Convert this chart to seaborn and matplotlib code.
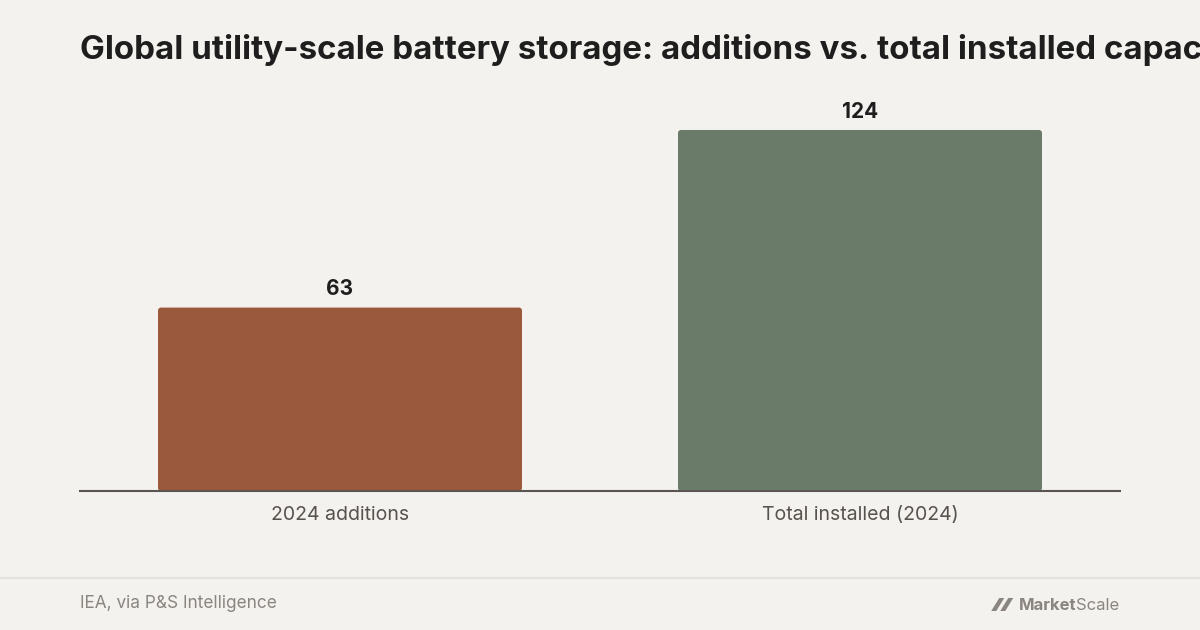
import matplotlib
matplotlib.use("Agg")
import matplotlib.pyplot as plt
import seaborn as sns
import pandas as pd
from matplotlib.patches import Polygon, FancyBboxPatch

categories = ["2024 additions", "Total installed (2024)"]
values = [63, 124]
bar_colors = ["#9A583C", "#6A7C69"]
value_labels = ["63", "124"]

title = "Global utility-scale battery storage: additions vs. total installed capacity"
source = "IEA, via P&S Intelligence"

BG = "#F4F2EE"
sns.set_theme(style="white")
plt.rcParams["font.family"] = ["Inter", "DejaVu Sans"]

df = pd.DataFrame({"category": categories, "value": values})

fig = plt.figure(figsize=(12, 6.3), dpi=100, facecolor=BG)
ax = fig.add_axes([80/1200, 139/630, 1040/1200, 391/630])
ax.set_facecolor(BG)

sns.barplot(data=df, x="category", y="value", hue="category",
            palette=bar_colors, width=0.7, legend=False, ax=ax,
            saturation=1, edgecolor="none")

ax.set_xlim(-0.5, 1.5)
ax.set_ylim(0, 134.3)

# rounded corners (~3px) on the bars seaborn drew
px_x = 1040 / 2.0          # pixels per x unit
px_y = 391 / 134.3         # pixels per y unit
rad = 3.0 / px_x
aspect = (3.0 / px_y) / rad
for p in list(ax.patches):
    x, y = p.get_x(), p.get_y()
    w, h = p.get_width(), p.get_height()
    fc = p.get_facecolor()
    p.set_visible(False)
    fb = FancyBboxPatch((x, y), w, h,
                        boxstyle=f"round,pad=0,rounding_size={rad}",
                        mutation_aspect=aspect, facecolor=fc,
                        edgecolor="none", zorder=2)
    ax.add_patch(fb)

ax.set_xlabel("")
ax.set_ylabel("")
ax.set_yticks([])
for s in ["top", "right", "left"]:
    ax.spines[s].set_visible(False)
ax.spines["bottom"].set_color("#5A5550")
ax.spines["bottom"].set_linewidth(1.5)
ax.spines["bottom"].set_zorder(3)
ax.tick_params(axis="x", length=0, pad=11, labelsize=14, labelcolor="#57524D")

for i, (v, lab) in enumerate(zip(values, value_labels)):
    ax.annotate(lab, (i, v), xytext=(0, 6), textcoords="offset points",
                ha="center", va="bottom", fontsize=15, fontweight="bold",
                color="#1E1E1E")

fig.text(80/1200, 1 - 50/630, title, fontsize=23.8, fontweight="bold",
         color="#1E1E1E", ha="left", va="center")

# footer rule
fig.add_artist(plt.Line2D([0, 1], [1 - 578/630, 1 - 578/630],
                          color="#E4E2DD", linewidth=1.5, transform=fig.transFigure))
fig.text(80/1200, 1 - 604/630, source, fontsize=12.4, color="#8A8580",
         ha="left", va="center")

# MarketScale logo
t_scale = fig.text(1119/1200, 1 - 605/630, "Scale", fontsize=12, color="#8A8580",
                   ha="right", va="center")
fig.canvas.draw()
r = fig.canvas.get_renderer()
bb = t_scale.get_window_extent(r)
t_market = fig.text((bb.x0 + 1) / 1200, 1 - 605/630, "Market", fontsize=12, color="#8A8580",
                    fontweight="bold", ha="right", va="center")
bb2 = t_market.get_window_extent(r)
x0 = bb2.x0 - 2
yb = 630 - 611
yt = 630 - 598
for dx in (0, 9):
    pts = [(x0 - 26 + dx, yb), (x0 - 18 + dx, yt), (x0 - 13 + dx, yt), (x0 - 21 + dx, yb)]
    fig.add_artist(Polygon([(px/1200, py/630) for px, py in pts], closed=True,
                           transform=fig.transFigure, color="#8A8580", lw=0))

fig.savefig("out.png", dpi=100, facecolor=BG)
